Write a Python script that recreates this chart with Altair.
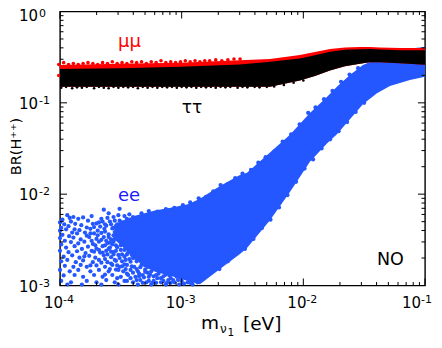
import altair as alt
import pandas as pd

W, H = 365, 274
FONT = "DejaVu Sans"
BLUE = "#2457ff"

# Band outlines, as log10(mass / eV) and log10(BR)
ee_logm = [-3.55, -3.45, -3.384, -3.219, -3.080, -2.948, -2.850, -2.685, -2.521, -2.463, -2.274, -2.110,
           -1.946, -1.806, -1.724, -1.617, -1.510, -1.395, -1.288, -1.124, -1.0]
ee_top = [-2.33, -2.27, -2.235, -2.18, -2.145, -2.11, -2.05, -1.91, -1.79, -1.765, -1.545, -1.35,
          -1.11, -0.935, -0.825, -0.695, -0.585, -0.52, -0.47, -0.405, -0.390]
ee_bot = [-2.50, -2.62, -2.72, -2.85, -2.90, -2.95, -2.985, -2.82, -2.655, -2.59, -2.285, -1.975,
          -1.645, -1.445, -1.345, -1.18, -1.015, -0.895, -0.815, -0.750, -0.715]

lep_logm = [-4.0, -3.507, -3.014, -2.521, -2.274, -2.028, -1.905, -1.781, -1.658, -1.535,
            -1.453, -1.37, -1.206, -1.0]
tau_top = [-0.63, -0.62, -0.605, -0.58, -0.55, -0.515, -0.48, -0.44, -0.42, -0.412,
           -0.41, -0.415, -0.425, -0.425]
tau_bot = [-0.825, -0.825, -0.825, -0.825, -0.825, -0.755, -0.705, -0.645, -0.600, -0.572,
           -0.556, -0.556, -0.567, -0.583]
mu_top = [-0.585, -0.572, -0.56, -0.535, -0.521, -0.477, -0.444, -0.411, -0.395, -0.389,
          -0.389, -0.395, -0.400, -0.400]

# Individually visible points (log10 mass, log10 BR)
ee_points = [
    (-3.64, -2.17), (-3.51, -2.16), (-3.60, -2.21), (-3.94, -2.23), (-3.89, -2.25), (-3.74, -2.24),
    (-3.56, -2.25), (-3.52, -2.23), (-3.47, -2.24), (-3.43, -2.22), (-3.98, -2.28), (-3.92, -2.26),
    (-3.85, -2.27), (-3.81, -2.255), (-3.66, -2.27), (-3.61, -2.26), (-3.55, -2.29), (-3.45, -2.27),
    (-3.40, -2.25), (-4.0, -2.31), (-3.965, -2.33), (-3.91, -2.30), (-3.875, -2.325), (-3.77, -2.29),
    (-3.70, -2.32), (-3.65, -2.30), (-3.58, -2.33), (-3.51, -2.29), (-3.44, -2.32), (-3.39, -2.29),
    (-3.99, -2.37), (-3.93, -2.35), (-3.88, -2.385), (-3.825, -2.34), (-3.78, -2.365), (-3.73, -2.325),
    (-3.67, -2.355), (-3.62, -2.345), (-3.54, -2.35), (-3.48, -2.36), (-3.41, -2.34), (-3.36, -2.33),
    (-4.0, -2.40), (-3.95, -2.385), (-3.90, -2.42), (-3.84, -2.395), (-3.795, -2.42), (-3.75, -2.38),
    (-3.69, -2.40), (-3.635, -2.38), (-3.57, -2.375), (-3.52, -2.395), (-3.46, -2.385), (-3.42, -2.41),
    (-3.37, -2.38), (-3.98, -2.445), (-3.925, -2.46), (-3.86, -2.43), (-3.78, -2.455), (-3.72, -2.43),
    (-3.66, -2.425), (-3.60, -2.44), (-3.55, -2.415), (-3.50, -2.435), (-3.44, -2.42), (-3.39, -2.445),
    (-3.35, -2.42), (-4.0, -2.48), (-3.96, -2.51), (-3.89, -2.475), (-3.83, -2.495), (-3.76, -2.47),
    (-3.70, -2.49), (-3.64, -2.47), (-3.58, -2.495), (-3.53, -2.46), (-3.47, -2.485), (-3.41, -2.47),
    (-3.37, -2.495), (-3.99, -2.55), (-3.91, -2.525), (-3.85, -2.54), (-3.80, -2.52), (-3.73, -2.545),
    (-3.68, -2.52), (-3.61, -2.535), (-3.56, -2.52), (-3.49, -2.54), (-3.44, -2.515), (-3.39, -2.535),
    (-3.35, -2.52), (-3.95, -2.585), (-3.88, -2.57), (-3.82, -2.60), (-3.77, -2.575), (-3.70, -2.595),
    (-3.65, -2.57), (-3.59, -2.585), (-3.54, -2.56), (-3.46, -2.585), (-3.41, -2.56), (-3.36, -2.585),
    (-3.30, -2.60), (-4.0, -2.62), (-3.93, -2.635), (-3.86, -2.625), (-3.79, -2.645), (-3.74, -2.62),
    (-3.67, -2.64), (-3.62, -2.62), (-3.56, -2.635), (-3.50, -2.61), (-3.44, -2.64), (-3.38, -2.62),
    (-3.33, -2.645), (-3.27, -2.66), (-3.97, -2.685), (-3.90, -2.67), (-3.84, -2.695), (-3.76, -2.675),
    (-3.71, -2.695), (-3.64, -2.67), (-3.58, -2.69), (-3.52, -2.665), (-3.47, -2.685), (-3.41, -2.665),
    (-3.35, -2.685), (-3.30, -2.695), (-3.23, -2.70), (-3.99, -2.735), (-3.94, -2.72), (-3.87, -2.745),
    (-3.81, -2.725), (-3.73, -2.745), (-3.68, -2.72), (-3.61, -2.745), (-3.55, -2.72), (-3.49, -2.735),
    (-3.43, -2.71), (-3.37, -2.735), (-3.32, -2.72), (-3.26, -2.745), (-3.20, -2.73), (-3.15, -2.755),
    (-3.96, -2.785), (-3.89, -2.795), (-3.83, -2.775), (-3.78, -2.795), (-3.70, -2.78), (-3.63, -2.795),
    (-3.57, -2.775), (-3.51, -2.795), (-3.45, -2.775), (-3.39, -2.795), (-3.33, -2.775), (-3.28, -2.795),
    (-3.22, -2.78), (-3.17, -2.795), (-3.11, -2.80), (-3.05, -2.795), (-4.0, -2.83), (-3.92, -2.845),
    (-3.85, -2.83), (-3.75, -2.845), (-3.68, -2.83), (-3.60, -2.845), (-3.54, -2.825), (-3.48, -2.845),
    (-3.42, -2.83), (-3.36, -2.845), (-3.30, -2.825), (-3.25, -2.845), (-3.19, -2.835), (-3.13, -2.855),
    (-3.08, -2.84), (-3.02, -2.855), (-2.97, -2.84), (-3.97, -2.89), (-3.88, -2.885), (-3.81, -2.905),
    (-3.72, -2.885), (-3.65, -2.905), (-3.57, -2.885), (-3.50, -2.905), (-3.44, -2.885), (-3.38, -2.905),
    (-3.32, -2.885), (-3.27, -2.905), (-3.21, -2.885), (-3.15, -2.90), (-3.10, -2.89), (-3.04, -2.905),
    (-2.99, -2.89), (-2.93, -2.90), (-3.99, -2.95), (-3.91, -2.965), (-3.78, -2.95), (-3.70, -2.965),
    (-3.62, -2.94), (-3.55, -2.965), (-3.47, -2.95), (-3.40, -2.965), (-3.34, -2.94), (-3.29, -2.965),
    (-3.23, -2.95), (-3.17, -2.965), (-3.11, -2.94), (-3.06, -2.965), (-3.00, -2.95), (-2.95, -2.965),
    (-2.90, -2.935), (-2.87, -2.965), (-3.94, -2.99), (-3.82, -2.99), (-3.66, -2.99), (-3.52, -2.99),
    (-3.36, -2.99), (-3.25, -2.99), (-3.13, -2.99), (-3.02, -2.99), (-2.91, -2.99),
    # the field grows denser towards the solid part of the band
    (-3.72, -2.36), (-3.68, -2.31), (-3.63, -2.33), (-3.59, -2.30), (-3.56, -2.37), (-3.53, -2.33),
    (-3.49, -2.31), (-3.46, -2.35), (-3.43, -2.29), (-3.69, -2.45), (-3.63, -2.41), (-3.60, -2.47),
    (-3.56, -2.45), (-3.52, -2.43), (-3.49, -2.46), (-3.46, -2.42), (-3.43, -2.45), (-3.66, -2.50),
    (-3.62, -2.51), (-3.59, -2.53), (-3.55, -2.49), (-3.51, -2.51), (-3.48, -2.51), (-3.44, -2.48),
    (-3.41, -2.51), (-3.38, -2.48), (-3.63, -2.56), (-3.60, -2.60), (-3.57, -2.55), (-3.53, -2.58),
    (-3.50, -2.56), (-3.47, -2.61), (-3.44, -2.57), (-3.40, -2.60), (-3.38, -2.56), (-3.33, -2.59),
    (-3.61, -2.66), (-3.56, -2.66), (-3.54, -2.62), (-3.49, -2.66), (-3.45, -2.66), (-3.43, -2.61),
    (-3.39, -2.66), (-3.36, -2.64), (-3.32, -2.66), (-3.29, -2.63), (-3.25, -2.68), (-3.54, -2.73),
    (-3.51, -2.70), (-3.46, -2.72), (-3.42, -2.74), (-3.40, -2.70), (-3.36, -2.71), (-3.33, -2.74),
    (-3.29, -2.72), (-3.27, -2.70), (-3.23, -2.74), (-3.20, -2.69), (-3.17, -2.72), (-3.12, -2.76),
    (-3.49, -2.79), (-3.46, -2.82), (-3.41, -2.79), (-3.37, -2.82), (-3.34, -2.80), (-3.30, -2.78),
    (-3.26, -2.80), (-3.24, -2.82), (-3.20, -2.79), (-3.16, -2.82), (-3.13, -2.79), (-3.09, -2.82),
    (-3.06, -2.83), (-3.01, -2.82), (-2.98, -2.87), (-3.40, -2.86), (-3.35, -2.87), (-3.31, -2.91),
    (-3.28, -2.86), (-3.23, -2.90), (-3.19, -2.87), (-3.17, -2.92), (-3.13, -2.88), (-3.09, -2.92),
    (-3.06, -2.87), (-3.01, -2.91), (-2.96, -2.92), (-2.91, -2.95), (-3.27, -2.95), (-3.21, -2.97),
    (-3.15, -2.95), (-3.09, -2.97), (-3.03, -2.94), (-2.98, -2.98), (-2.93, -2.97), (-2.88, -2.92),
    (-3.75, -2.43), (-3.74, -2.51), (-3.71, -2.56), (-3.68, -2.61), (-3.65, -2.64), (-3.63, -2.71),
    (-3.58, -2.63), (-3.58, -2.76), (-3.53, -2.78), (-3.52, -2.83), (-3.47, -2.77), (-3.45, -2.87),
    (-3.42, -2.92), (-3.37, -2.94), (-3.35, -2.90), (-3.32, -2.97), (-3.30, -2.85), (-3.26, -2.88),
    (-3.24, -2.97), (-3.20, -2.92), (-3.12, -2.97), (-3.07, -2.94), (-3.45, -2.95), (-3.53, -2.92),
    (-3.59, -2.82), (-3.66, -2.75), (-3.72, -2.63), (-3.63, -2.88), (-3.75, -2.78), (-3.80, -2.68),
    # fringe of the rising band, upper then lower edge
    (-3.33, -2.21), (-3.27, -2.185), (-3.20, -2.19), (-3.13, -2.165), (-3.06, -2.15), (-2.99, -2.12),
    (-2.93, -2.09), (-2.86, -2.045), (-2.80, -2.03), (-2.74, -1.97), (-2.68, -1.90), (-2.62, -1.89),
    (-2.56, -1.825), (-2.50, -1.775), (-2.43, -1.735), (-2.37, -1.655), (-2.31, -1.595), (-2.24, -1.535),
    (-2.17, -1.425), (-2.10, -1.345), (-2.03, -1.235), (-1.96, -1.11), (-1.90, -1.05), (-1.83, -0.96),
    (-1.76, -0.87), (-1.69, -0.77), (-1.62, -0.69), (-1.55, -0.62),
    (-2.83, -2.90), (-2.76, -2.86), (-2.69, -2.82), (-2.62, -2.735), (-2.55, -2.65), (-2.48, -2.60),
    (-2.41, -2.49), (-2.34, -2.37), (-2.27, -2.28), (-2.20, -2.145), (-2.13, -2.01), (-2.06, -1.865),
    (-1.99, -1.72), (-1.92, -1.62), (-1.85, -1.50), (-1.78, -1.40), (-1.71, -1.31), (-1.64, -1.21),
    (-1.57, -1.10), (-1.50, -1.00),
]

mu_points = [
    (-4.01, -0.58), (-3.97, -0.56), (-3.93, -0.58), (-3.89, -0.57), (-3.85, -0.58), (-3.81, -0.57),
    (-3.77, -0.56), (-3.73, -0.57), (-3.69, -0.58), (-3.65, -0.56), (-3.61, -0.57), (-3.57, -0.55),
    (-3.53, -0.57), (-3.49, -0.56), (-3.45, -0.57), (-3.41, -0.55), (-3.37, -0.56), (-3.33, -0.55),
    (-3.29, -0.57), (-3.25, -0.55), (-3.21, -0.56), (-3.17, -0.54), (-3.13, -0.56), (-3.09, -0.55),
    (-3.05, -0.56), (-3.01, -0.55), (-2.97, -0.54), (-2.93, -0.55), (-2.89, -0.54), (-2.85, -0.55),
    (-2.81, -0.54), (-2.77, -0.54), (-2.72, -0.53), (-2.67, -0.54), (-2.62, -0.53), (-2.57, -0.52),
    (-2.52, -0.52), (-4.01, -0.70), (-3.98, -0.62), (-3.92, -0.62), (-3.86, -0.61), (-3.74, -0.62),
]

tau_points = [
    (-3.99, -0.835), (-3.95, -0.825), (-3.90, -0.84), (-3.86, -0.83), (-3.82, -0.835), (-3.78, -0.825),
    (-3.72, -0.84), (-3.68, -0.825), (-3.64, -0.835), (-3.60, -0.84), (-3.56, -0.825), (-3.52, -0.835),
    (-3.48, -0.825), (-3.44, -0.83), (-3.40, -0.825), (-3.36, -0.84), (-3.32, -0.825), (-3.28, -0.835),
    (-3.24, -0.825), (-3.20, -0.835), (-3.16, -0.825), (-3.12, -0.83), (-3.08, -0.825), (-3.04, -0.835),
    (-3.00, -0.825), (-2.96, -0.83), (-2.92, -0.825), (-2.88, -0.835), (-2.84, -0.825), (-2.80, -0.83),
    (-2.76, -0.825), (-2.72, -0.835), (-2.68, -0.825), (-2.64, -0.83), (-2.60, -0.825), (-2.54, -0.835),
    (-2.50, -0.825), (-2.46, -0.83), (-2.40, -0.825), (-2.36, -0.83), (-2.30, -0.825), (-2.24, -0.82),
    (-2.16, -0.805), (-2.08, -0.78), (-2.00, -0.755),
]

# Axis furniture
x_major = [1e-4, 1e-3, 1e-2, 1e-1]
x_minor = [m * 10.0 ** e for e in (-4, -3, -2) for m in range(2, 10)]
y_major = [1e-3, 1e-2, 1e-1, 1e0]
y_minor = [m * 10.0 ** e for e in (-3, -2, -1) for m in range(2, 10)]
x_exponents = ["-4", "-3", "-2"]
y_exponents = ["-3", "-2", "-1"]

x_scale = alt.Scale(type="log", domain=[1e-4, 1e-1])
y_scale = alt.Scale(type="log", domain=[1e-3, 1e0])
X = alt.X("m:Q", scale=x_scale, axis=None)
Y = alt.Y("br:Q", scale=y_scale, axis=None)


def band(logm, top, bot, color):
    df = pd.DataFrame({"m": [10.0 ** v for v in logm],
                       "br": [10.0 ** v for v in top],
                       "br2": [10.0 ** v for v in bot]})
    return alt.Chart(df).mark_area(color=color, opacity=1, strokeWidth=0).encode(x=X, y=Y, y2="br2:Q")


def dots(points, color, size):
    df = pd.DataFrame({"m": [10.0 ** p[0] for p in points], "br": [10.0 ** p[1] for p in points]})
    return alt.Chart(df).mark_circle(color=color, opacity=1, size=size).encode(x=X, y=Y)


def xticks(values, length):
    df = pd.DataFrame({"m": values})
    base = alt.Chart(df).mark_rule(color="black", strokeWidth=1)
    return (base.encode(x=X, y=alt.value(0), y2=alt.value(length))
            + base.encode(x=X, y=alt.value(H), y2=alt.value(H - length)))


def yticks(values, length):
    df = pd.DataFrame({"br": values})
    base = alt.Chart(df).mark_rule(color="black", strokeWidth=1)
    return (base.encode(y=Y, x=alt.value(0), x2=alt.value(length))
            + base.encode(y=Y, x=alt.value(W), x2=alt.value(W - length)))


def txt(label, xpos, ypos, size, color="black", align="left"):
    return alt.Chart(pd.DataFrame({"t": [label]})).mark_text(
        font=FONT, fontSize=size, color=color, align=align, baseline="alphabetic"
    ).encode(x=alt.value(xpos), y=alt.value(ypos), text="t:N")


def note(label, m, br, size, color):
    df = pd.DataFrame({"m": [m], "br": [br], "t": [label]})
    return alt.Chart(df).mark_text(
        font=FONT, fontSize=size, color=color, align="left", baseline="alphabetic"
    ).encode(x=X, y=Y, text="t:N")


xlab_df = pd.DataFrame({"m": x_major[:3], "t": ["10"] * 3, "e": x_exponents})
ylab_df = pd.DataFrame({"br": y_major[:3], "t": ["10"] * 3, "e": y_exponents})

x_base = alt.Chart(xlab_df).encode(x=X)
x_labels = (
    x_base.mark_text(font=FONT, fontSize=15, align="left", baseline="alphabetic", dx=-16, color="black")
    .encode(y=alt.value(296.5), text="t:N")
    + x_base.mark_text(font=FONT, fontSize=11, align="left", baseline="alphabetic", dx=3, color="black")
    .encode(y=alt.value(291.5), text="e:N")
)
y_base = alt.Chart(ylab_df).encode(y=Y)
y_labels = (
    y_base.mark_text(font=FONT, fontSize=15, align="right", baseline="alphabetic", dy=6, color="black")
    .encode(x=alt.value(-22), text="t:N")
    + y_base.mark_text(font=FONT, fontSize=11, align="left", baseline="alphabetic", dy=1, color="black")
    .encode(x=alt.value(-21), text="e:N")
)

chart = alt.layer(
    band(ee_logm, ee_top, ee_bot, BLUE),
    dots(ee_points, BLUE, 18),
    band(lep_logm, mu_top, tau_bot, "#ff0000"),
    dots(mu_points, "#ff0000", 13),
    band(lep_logm, tau_top, tau_bot, "#000000"),
    dots(tau_points, "#000000", 7),
    xticks(x_major, 7), xticks(x_minor, 3.5), yticks(y_major, 7), yticks(y_minor, 3.5),
    x_labels, y_labels,
    txt("10", -22, 9, 15, align="right"), txt("0", -21, 5, 11),
    txt("10", 342, 296.5, 15), txt("-1", 361, 291.5, 11),
    note("μμ", 3.0e-4, 0.408, 18, "#ff0000"),
    note("ττ", 1.0e-3, 0.077, 17, "#000000"),
    note("ee", 3.0e-4, 0.00836, 18, "#1a1aff"),
    note("NO", 0.0403, 0.00166, 17.5, "#000000"),
    txt("m", 141, 317.5, 18.5),
    txt("ν", 160, 321, 12),
    txt("1", 167.5, 324, 10.5),
    txt("[eV]", 183, 318.5, 18.5),
    alt.Chart(pd.DataFrame({"t": ["BR(H⁺⁺)"]})).mark_text(
        font=FONT, fontSize=14.5, color="black", angle=270, align="center", baseline="alphabetic"
    ).encode(x=alt.value(-39.5), y=alt.value(135), text="t:N"),
).properties(
    width=W, height=H,
    autosize=alt.AutoSizeParams(type="none"),
    padding={"left": 52, "top": 3.5, "right": 9, "bottom": 50.5},
).configure_view(stroke="black", strokeWidth=1.4)

chart.save("out.html", embed_options={"renderer": "svg", "actions": False})
